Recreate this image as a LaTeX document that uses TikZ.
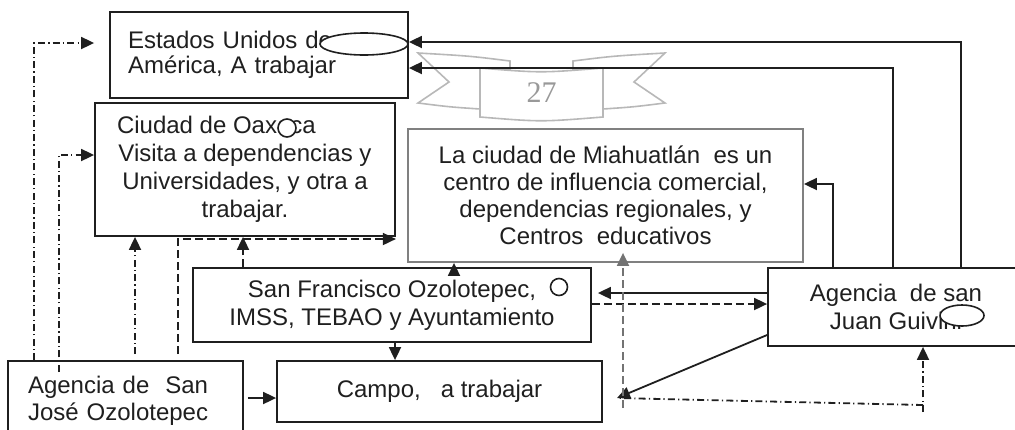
\documentclass[tikz,border=0pt]{standalone}
\usepackage{fontspec}
\setmainfont{Liberation Sans}
\newfontfamily\serifnum{Liberation Serif}
\usetikzlibrary{arrows.meta,shapes.geometric}
\begin{document}
\begin{tikzpicture}[x=0.5pt,y=-0.5pt,
  box/.style={draw=black!88, line width=0.9pt, inner sep=0pt, text=black!88,
    font=\fontsize{12}{14}\selectfont},
  con/.style={line width=0.9pt, draw=black!88},
  tip/.style={-{Triangle[length=6.5pt,width=6pt]}},
  dd/.style={dash pattern=on 3.5pt off 1.6pt on 0.6pt off 1.6pt},
  ds/.style={dash pattern=on 4pt off 2pt},
  cover/.style={draw=black!88, line width=0.8pt, fill=white, inner sep=0pt},
  banner/.style={draw=black!28, line width=0.8pt, fill=white},
]
\useasboundingbox (0,0) rectangle (1015,429);
\clip (0,0) rectangle (1015,429);

% page banner "27"
\draw[banner] (510,69) -- (510,61) .. controls (470,56) .. (418,53) -- (449,82) -- (418,103)
  .. controls (450,107) .. (480,109) -- (480,69) -- cycle;
\draw[banner] (573,69) -- (573,61) .. controls (613,56) .. (665,53) -- (634,82) -- (665,103)
  .. controls (633,107) .. (603,109) -- (603,69) -- cycle;
\draw[banner] (480,68) .. controls (541,73) .. (603,68) -- (603,117)
  .. controls (541,122) .. (480,117) -- cycle;
\node[text=black!40, font=\serifnum\fontsize{15}{15}\selectfont] (pg) at (541.5,93) {27};

% boxes
\node[box, text width=131pt, inner xsep=9pt, minimum height=43pt, align=left,
  font=\fontsize{12}{12.5}\selectfont] (eu) at (259,55) {Estados Unidos de\\América, A trabajar};
\node[box, minimum width=150pt, minimum height=66.5pt, align=center] (oax) at (245,169.5)
  {\makebox[128pt][l]{Ciudad de Oaxaca}\\Visita a dependencias y\\Universidades, y otra a\\trabajar.};
\node[box, draw=black!50, minimum width=197.5pt, minimum height=66.5pt, align=center,
  font=\fontsize{12}{13.5}\selectfont] (mia) at (605.5,195.5)
  {La ciudad de Miahuatlán\ \ es un\\centro de influencia comercial,\\dependencias regionales, y\\Centros\ \ educativos};
\node[box, minimum width=199pt, minimum height=37pt, align=center] (sf) at (392,305)
  {San Francisco Ozolotepec,\\IMSS, TEBAO y Ayuntamiento};
\node[box, minimum width=128pt, minimum height=39pt, align=center] (sj2) at (896,307)
  {Agencia\ \ de san\\Juan Guivini};
\node[box, minimum width=162.5pt, minimum height=30.5pt] (campo) at (439.5,391.5)
  {Campo,\ \ \ a trabajar};
\node[box, text width=97.5pt, inner xsep=10pt, minimum height=40pt, align=left,
  font=\fontsize{12}{13.5}\selectfont] (sjo) at (125.5,401) {Agencia de\ \ San\\José Ozolotepec};

% white shapes lying over the texts
\node[cover, ellipse, minimum width=44pt, minimum height=11pt] (ov1) at (364,44) {};
\node[cover, circle, minimum size=9pt] (ov2) at (287,128) {};
\node[cover, circle, minimum size=8.5pt] (ov3) at (559,287) {};
\node[cover, ellipse, minimum width=22pt, minimum height=10.5pt] (ov4) at (962,315.5) {};

% connectors
\coordinate (pj) at (617,398);
\coordinate (q1) at (923,405);
\coordinate (q2) at (923,412);
\coordinate (g1) at (623,408);
\coordinate (x59) at (59,372);

\draw[con,tip] (961,0 |- sj2.north) |- (eu.east |- 0,42);
\draw[con,tip] (893,0 |- sj2.north) |- (eu.east |- 0,68);
\draw[con,tip] (833,0 |- sj2.north) |- (mia.east |- 0,184);
\draw[con,tip,shorten >=3pt] (sj2.west |- 0,293) -- (sf.east |- 0,293);
\draw[con,ds,tip] (sf.east |- 0,304) -- (sj2.west |- 0,304);
\draw[con,tip] (sj2.west |- 0,335) -- (pj);
\draw[con,dd] (q1) -- (pj);
\draw[con,dd,tip] (q2) -- (923,0 |- sj2.south);
\draw[con,ds,draw=black!55,tip,shorten >=-5pt] (g1) -- (623,0 |- mia.south);
\draw[con,tip] (454,0 |- sf.north) -- (454,0 |- mia.south);
\draw[con,ds,tip] (243,0 |- sf.north) -- (243,0 |- oax.south);
\draw[con,ds,tip] (395,0 |- sf.south) -- (395,0 |- campo.north);
\draw[con,tip,shorten <=2pt] (sjo.east |- 0,398) -- (campo.west |- 0,398);
\draw[con,dd,tip,shorten >=7.5pt] (34,0 |- sjo.north) |- (eu.west |- 0,43);
\draw[con,dd,tip] (x59) |- (oax.west |- 0,155);
\draw[con,dd,tip,shorten <=3pt] (135,0 |- sjo.north) -- (135,0 |- oax.south);
\draw[con,ds,tip,shorten <=3pt] (178,0 |- sjo.north) |- (oax.east |- 0,239);
\end{tikzpicture}
\end{document}
